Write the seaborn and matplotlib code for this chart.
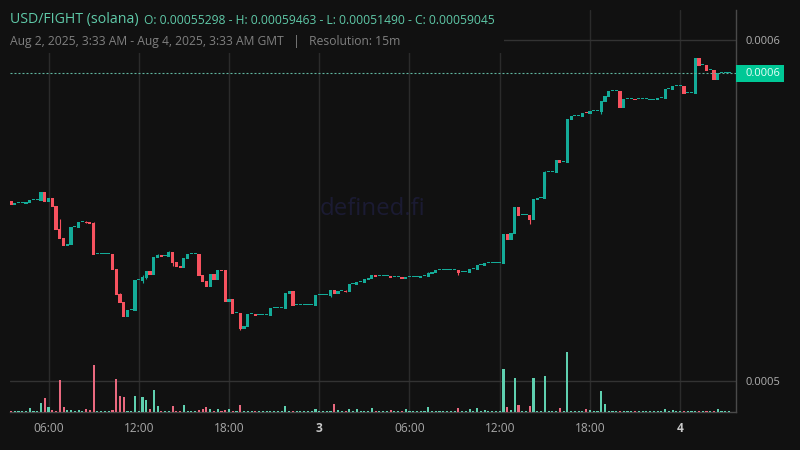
import numpy as np
import pandas as pd
import matplotlib.pyplot as plt
from matplotlib.patches import Rectangle
import seaborn as sns

# 15m candles, prices in units of 1e-8
opens = [
    55279, 55161, 55220, 55220, 55191, 55220, 55308, 55308, 55279, 55542,
    55249, 55367, 55132, 54457, 54193, 53959, 53988, 54516, 54487, 54663,
    54663, 54663, 54633, 53724, 53724, 53724, 53724, 53724, 53284, 52551,
    52317, 51877, 52082, 52053, 52962, 52933, 53020, 53226, 53108, 53607,
    53695, 53666, 53636, 53783, 53490, 53372, 53314, 53578, 53724, 53724,
    53724, 53108, 52933, 52757, 53138, 52962, 53255, 53255, 52317, 52405,
    51994, 51994, 51525, 51584, 51965, 51965, 51935, 51935, 51935, 51906,
    52139, 52139, 52139, 52112, 52551, 52639, 52229, 52229, 52229, 52229,
    52229, 52199, 52522, 52522, 52522, 52492, 52668, 52551, 52639, 52639,
    52610, 52844, 52815, 52903, 52874, 52962, 52991, 53108, 53079, 53079,
    53079, 53079, 53050, 53050, 53050, 52991, 53050, 53050, 53050, 53020,
    53079, 53050, 53138, 53167, 53255, 53255, 53255, 53255, 53255, 53255,
    53196, 53196, 53167, 53284, 53255, 53402, 53372, 53460, 53460, 53460,
    53460, 53431, 54311, 54135, 54311, 55103, 54868, 54868, 54868, 54721,
    55308, 55367, 55337, 56129, 56129, 56100, 56481, 56422, 56393, 57654,
    57772, 57772, 57742, 57860, 57830, 57918, 57918, 57889, 58182, 58329,
    58504, 58504, 58504, 58006, 58270, 58270, 58270, 58270, 58270, 58270,
    58255, 58255, 58241, 58299, 58270, 58563, 58534, 58651, 58651, 58651,
    58446, 58446, 58416, 59463, 59267, 59267, 59120, 59120, 58827, 59045,
    59045, 59045,
]
closes = [
    55161, 55220, 55220, 55220, 55249, 55308, 55308, 55308, 55542, 55249,
    55367, 55103, 54428, 54164, 53959, 54017, 54516, 54516, 54663, 54663,
    54633, 54604, 53695, 53724, 53724, 53724, 53724, 53255, 52522, 52287,
    51877, 52082, 52082, 52962, 52962, 53050, 53226, 53108, 53636, 53695,
    53636, 53666, 53783, 53460, 53343, 53314, 53607, 53724, 53724, 53724,
    53079, 52903, 52757, 53138, 52962, 53255, 53226, 52317, 52405, 51965,
    51994, 51525, 51613, 51965, 51965, 51906, 51935, 51935, 51935, 52139,
    52139, 52139, 52139, 52580, 52639, 52199, 52229, 52229, 52229, 52229,
    52229, 52522, 52522, 52522, 52522, 52668, 52551, 52639, 52639, 52610,
    52844, 52844, 52903, 52903, 52991, 53020, 53108, 53050, 53079, 53079,
    53079, 53020, 53050, 53050, 52991, 53050, 53050, 53050, 53050, 53079,
    53079, 53167, 53196, 53255, 53255, 53255, 53255, 53255, 53255, 53167,
    53196, 53196, 53284, 53284, 53402, 53402, 53460, 53460, 53460, 53460,
    53460, 54311, 54135, 54340, 55103, 54839, 54868, 54868, 54721, 55337,
    55367, 55367, 56129, 56129, 56129, 56481, 56393, 56422, 57683, 57772,
    57772, 57772, 57860, 57845, 57918, 57918, 57918, 58211, 58358, 58504,
    58504, 58504, 58006, 58270, 58270, 58270, 58255, 58270, 58270, 58270,
    58255, 58255, 58299, 58299, 58563, 58563, 58651, 58651, 58651, 58416,
    58446, 58446, 59463, 59238, 59267, 59091, 59120, 58827, 59045, 59045,
    59045, 59045,
]
volumes = [
    1, 4, 1, 1, 4, 11, 1, 1, 26, 41,
    14, 5, 1, 95, 14, 5, 5, 1, 5, 1,
    8, 5, 140, 1, 1, 1, 1, 5, 98, 47,
    44, 1, 1, 47, 1, 44, 35, 8, 65, 17,
    3, 1, 1, 17, 2, 2, 20, 1, 1, 1,
    5, 8, 14, 8, 3, 8, 3, 5, 8, 1,
    1, 20, 1, 1, 1, 1, 1, 1, 1, 1,
    1, 1, 1, 17, 1, 1, 1, 1, 1, 1,
    1, 8, 1, 1, 1, 1, 23, 5, 1, 1,
    8, 1, 8, 1, 1, 1, 11, 2, 1, 1,
    1, 5, 1, 1, 1, 8, 1, 1, 1, 1,
    1, 14, 1, 1, 1, 1, 1, 1, 1, 11,
    1, 1, 8, 1, 11, 1, 5, 1, 1, 1,
    1, 128, 14, 5, 101, 20, 1, 1, 17, 101,
    1, 1, 107, 1, 1, 1, 11, 1, 179, 1,
    1, 1, 1, 8, 5, 1, 1, 62, 23, 1,
    1, 1, 2, 1, 1, 1, 2, 1, 1, 1,
    1, 1, 1, 1, 8, 1, 5, 1, 1, 2,
    1, 1, 1, 2, 1, 1, 1, 1, 8, 1,
    1, 1,
]
# wicks that stick out of the body
wick_bars = [13, 20, 22, 29, 35, 35, 36, 39, 42, 43, 61, 85, 89, 111, 119, 138, 142, 157]
wick_ends = [54751, 54692, 54663, 52581, 53108, 52874, 52991, 53724, 53812, 53372,
             51490, 52463, 52668, 53196, 53108, 54604, 56158, 57830]

tick_bars = [10, 34, 58, 82, 106, 130, 154, 178]
tick_labels = ["06:00", "12:00", "18:00", "3", "06:00", "12:00", "18:00", "4"]
last_price = 59045

UP = "#14ab98"
DOWN = "#f7525f"
BG = "#111111"
GRID = "#2b2b2b"

sns.set_theme(style="dark", rc={"axes.facecolor": BG, "figure.facecolor": BG})
plt.rcParams["font.family"] = ["Open Sans", "DejaVu Sans"]

o = np.array(opens) * 1e-8
c = np.array(closes) * 1e-8
bars = np.arange(len(o))
is_up = c >= o
px = 29.33e-8  # one pixel of price

fig = plt.figure(figsize=(8, 4.5), dpi=100)
ax = fig.add_axes([10 / 800, 1 - 412 / 450, 726 / 800, 402 / 450])
ax.set_ylim(49091e-8, 60880e-8)

# grid
for b in tick_bars:
    ax.axvline(b, color=GRID, lw=1, zorder=1)
for p in [0.0005, 0.0006]:
    ax.axhline(p, color="#333333", lw=1, zorder=1)

# candles
body_low = np.minimum(o, c)
body_h = np.maximum(np.abs(c - o), px)
colors = [UP if u else DOWN for u in is_up]
for b, end in zip(wick_bars, wick_ends):
    ax.vlines(b, end * 1e-8, (o[b] + c[b]) / 2, color=colors[b], lw=0.8, zorder=2)
ax.bar(bars, body_h, bottom=body_low, width=0.85, color=colors, linewidth=0, zorder=3)

# last price line
ax.axhline(last_price * 1e-8, color="#5fb5a0", lw=0.8, ls=(0, (1.8, 1.8)), zorder=4)

# volume on its own axis, smallest bars still show as a 1px dash
vol_df = pd.DataFrame({"bar": bars, "volume": np.maximum(volumes, 3),
                       "side": ["up" if u else "down" for u in is_up]})
ax_vol = ax.twinx()
sns.barplot(data=vol_df, x="bar", y="volume", hue="side", dodge=False, native_scale=True,
            palette={"up": "#5fd0b0", "down": "#e9697f"}, saturation=1, width=0.56,
            errorbar=None, legend=False, linewidth=0, ax=ax_vol)
ax_vol.set_ylim(0, 1206)
ax_vol.set_xlabel("")
ax_vol.set_ylabel("")
ax_vol.set_yticks([])
ax_vol.patch.set_visible(False)
for s in ax_vol.spines.values():
    s.set_visible(False)

ax.set_xlim(-0.25, 192.85)
ax.set_xticks(tick_bars)
ax.set_xticklabels(tick_labels)
ax.yaxis.tick_right()
ax.set_yticks([0.0005, 0.0006])
ax.set_yticklabels(["0.0005", "0.0006"])
ax.tick_params(axis="x", length=0, pad=7, labelsize=8.6, labelcolor="#a8a8a8")
ax.tick_params(axis="y", length=0, pad=7, labelsize=8, labelcolor="#b0b0b0")
for i in [3, 7]:
    ax.get_xticklabels()[i].set_fontweight("bold")
    ax.get_xticklabels()[i].set_color("#c8c8c8")
for name, s in ax.spines.items():
    s.set_visible(name in ("right", "bottom"))
    s.set_color("#4a4a4a")
    s.set_linewidth(1)

# watermark
ax_vol.text(0.499, 0.505, "defined.fi", transform=ax_vol.transAxes, ha="center", va="center",
            fontsize=17.3, color="#1b1b33", zorder=1)

# header box hides the grid behind the legend text
fig.add_artist(Rectangle((0, 1 - 53 / 450), 504 / 800, 53 / 450, transform=fig.transFigure,
                         facecolor=BG, edgecolor="none", zorder=5))
fig.text(10 / 800, 1 - 20 / 450, "USD/FIGHT (solana)", fontsize=10.2, color="#5fc9a8",
         va="center", zorder=6)
fig.text(144 / 800, 1 - 20 / 450,
         "O: 0.00055298 - H: 0.00059463 - L: 0.00051490 - C: 0.00059045",
         fontsize=8.7, color="#5fc9a8", va="center", zorder=6)
fig.text(10 / 800, 1 - 41 / 450,
         "Aug 2, 2025, 3:33 AM - Aug 4, 2025, 3:33 AM GMT   |   Resolution: 15m",
         fontsize=8.75, color="#808080", va="center", zorder=6)

# last price tag
fig.add_artist(Rectangle((736 / 800, 1 - 82 / 450), 48 / 800, 17 / 450, transform=fig.transFigure,
                         facecolor="#00c896", edgecolor="none", zorder=5))
fig.text(746 / 800, 1 - 74 / 450, "0.0006", fontsize=8, color="#e8fff8", va="center", zorder=6)

plt.savefig("out.png", dpi=100)
